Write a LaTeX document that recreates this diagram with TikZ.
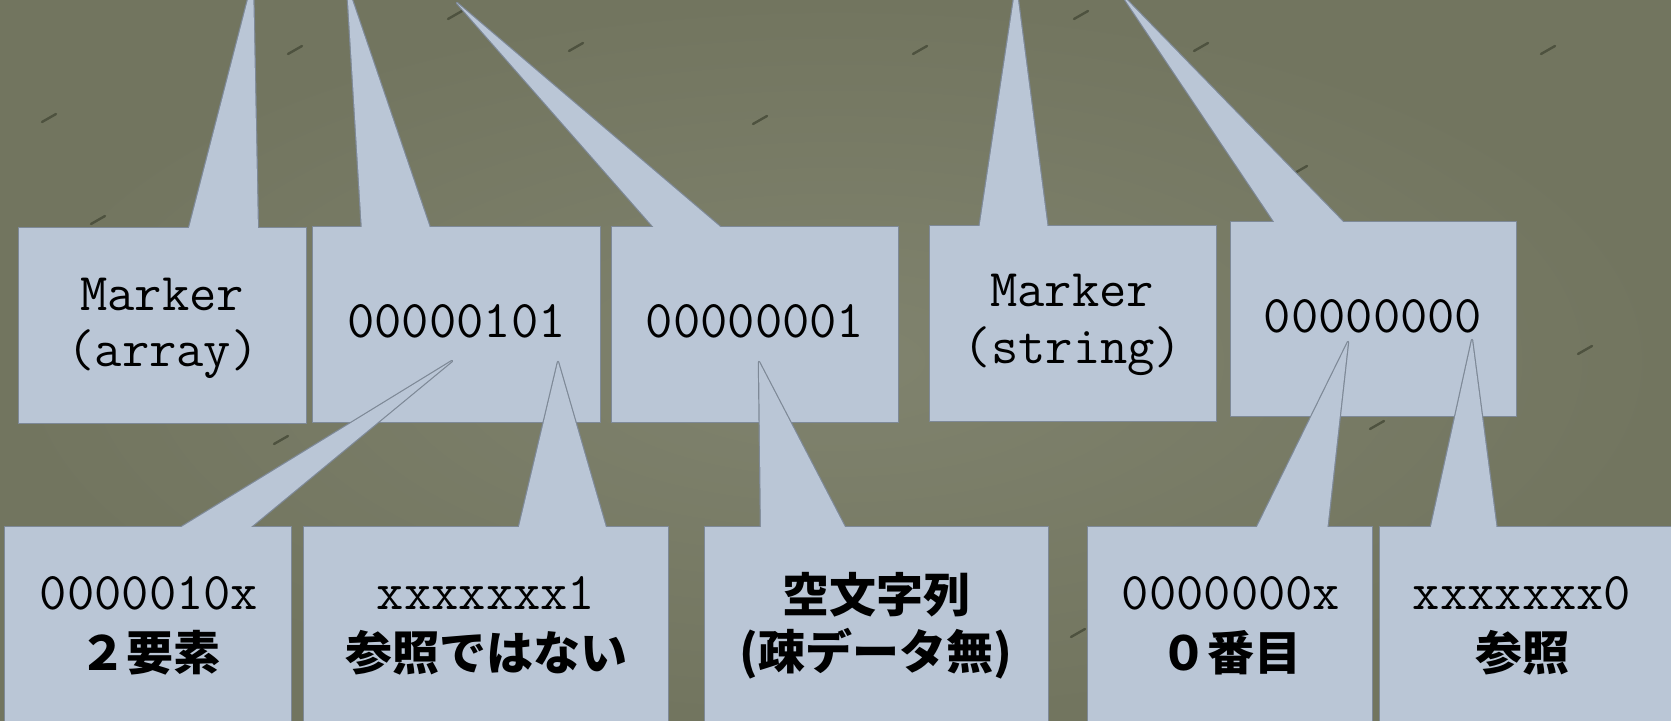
\documentclass[tikz,border=0pt]{standalone}
\usepackage{fontspec}
\newfontfamily\cjk{Noto Sans CJK JP}
\definecolor{bgin}{HTML}{80836E}
\definecolor{bgout}{HTML}{72755F}
\definecolor{boxc}{HTML}{BAC6D6}
\definecolor{edgec}{HTML}{7E8997}
\definecolor{scratchc}{HTML}{4E523F}
\tikzset{
  panel/.style={rectangle, inner sep=0pt, outer sep=0pt, draw=edgec, line width=1.2pt, fill=boxc},
  spikeedge/.style={draw=edgec, line width=1.2pt, line join=round},
  spikefill/.style={fill=boxc},
  mono/.style={font=\ttfamily\fontsize{26.5pt}{31pt}\selectfont, inner sep=0pt, anchor=base},
  jp/.style={font=\cjk\bfseries\fontsize{23.5pt}{28pt}\selectfont, inner sep=0pt, anchor=base},
  scratch/.style={draw=scratchc, line width=1.2pt, line cap=round},
}
\begin{document}
\begin{tikzpicture}[x=0.5pt, y=-0.5pt]
\useasboundingbox (0,0) rectangle (1671,721);
\clip (0,0) rectangle (1671,721);
\shade[inner color=bgin, outer color=bgout] (0,0) rectangle (1671,721);
% texture marks
\foreach \x/\y in {49/118, 295/50, 576/47, 455/15, 98/220, 1081/15, 920/50, 1201/47, 1548/50, 1585/350, 1377/425, 1078/633, 281/440, 760/120, 1300/170}
  \draw[scratch] (\x-7,\y+4) -- (\x+7,\y-4);

% ---------- top row ----------
\node[panel, minimum width=143.5pt, minimum height=97.5pt] (A) at (162.5,325.5) {};
\node[panel, minimum width=143.5pt, minimum height=97.5pt] (B) at (456.5,324.5) {};
\node[panel, minimum width=143pt, minimum height=97.5pt] (C) at (755,324.5) {};
\node[panel, minimum width=143pt, minimum height=97.5pt] (D) at (1073,323.5) {};
\node[panel, minimum width=142.5pt, minimum height=97pt] (E) at (1373.5,319) {};
\coordinate (tA) at (253,-20);
\coordinate (tB) at (347,-15);
\coordinate (tC) at (457,3);
\coordinate (tD) at (1016,-15);
\coordinate (tE) at (1122,-5);
\draw[spikeedge] (188,232) -- (tA) -- (258,232);
\draw[spikeedge] (362,231) -- (tB) -- (431,231);
\draw[spikeedge] (657,231) -- (tC) -- (725,231);
\draw[spikeedge] (979,230) -- (tD) -- (1048,230);
\draw[spikeedge] (1277,226) -- (tE) -- (1347,226);
\foreach \n in {A,B,C,D,E}
  \fill[boxc] (\n.south west) rectangle (\n.north east);
\fill[spikefill] (188,232) -- (tA) -- (258,232) -- cycle;
\fill[spikefill] (362,231) -- (tB) -- (431,231) -- cycle;
\fill[spikefill] (657,231) -- (tC) -- (725,231) -- cycle;
\fill[spikefill] (979,230) -- (tD) -- (1048,230) -- cycle;
\fill[spikefill] (1277,226) -- (tE) -- (1347,226) -- cycle;

\node[mono] (A1) at (162,311) {Marker};
\node[mono] (A2) at (163,367) {(array)};
\node[mono] (B1) at (456.5,338) {00000101};
\node[mono] (C1) at (755,338) {00000001};
\node[mono] (D1) at (1072,307) {Marker};
\node[mono] (D2) at (1073,364) {(string)};
\node[mono] (E1) at (1373,333) {00000000};

% ---------- bottom row ----------
\node[panel, minimum width=143pt, minimum height=116.5pt] (F) at (148,643.5) {};
\node[panel, minimum width=182pt, minimum height=116.5pt] (G) at (486,643.5) {};
\node[panel, minimum width=171.5pt, minimum height=116.5pt] (H) at (876.5,643.5) {};
\node[panel, minimum width=142pt, minimum height=116.5pt] (I) at (1230,643.5) {};
\node[panel, minimum width=160pt, minimum height=116.5pt] (J) at (1540,643.5) {};
\coordinate (tF) at (452,361);
\coordinate (tG) at (558,362);
\coordinate (tH) at (759,362);
\coordinate (tI) at (1348,342);
\coordinate (tJ) at (1472,340);
\draw[spikeedge] (175,531) -- (tF) -- (246,531);
\draw[spikeedge] (518,531) -- (tG) -- (607,531);
\draw[spikeedge] (761,531) -- (tH) -- (847,531);
\draw[spikeedge] (1255,531) -- (tI) -- (1327,531);
\draw[spikeedge] (1430,531) -- (tJ) -- (1497,531);
\foreach \n in {F,G,H,I,J}
  \fill[boxc] (\n.south west) rectangle (\n.north east);
\fill[spikefill] (175,531) -- (tF) -- (246,531) -- cycle;
\fill[spikefill] (518,531) -- (tG) -- (607,531) -- cycle;
\fill[spikefill] (761,531) -- (tH) -- (847,531) -- cycle;
\fill[spikefill] (1255,531) -- (tI) -- (1327,531) -- cycle;
\fill[spikefill] (1430,531) -- (tJ) -- (1497,531) -- cycle;

\node[mono] (F1) at (149,610) {0000010x};
\node[jp] (F2) at (150,670) {２要素};
\node[mono] (G1) at (486,610) {xxxxxxx1};
\node[jp] (G2) at (486,670) {参照ではない};
\node[jp] (H1) at (876,612) {空文字列};
\node[jp] (H2) at (876,669) {(疎データ無)};
\node[mono] (I1) at (1231,610) {0000000x};
\node[jp] (I2) at (1231,670) {０番目};
\node[mono] (J1) at (1522,610) {xxxxxxx0};
\node[jp] (J2) at (1522,670) {参照};
\end{tikzpicture}
\end{document}
